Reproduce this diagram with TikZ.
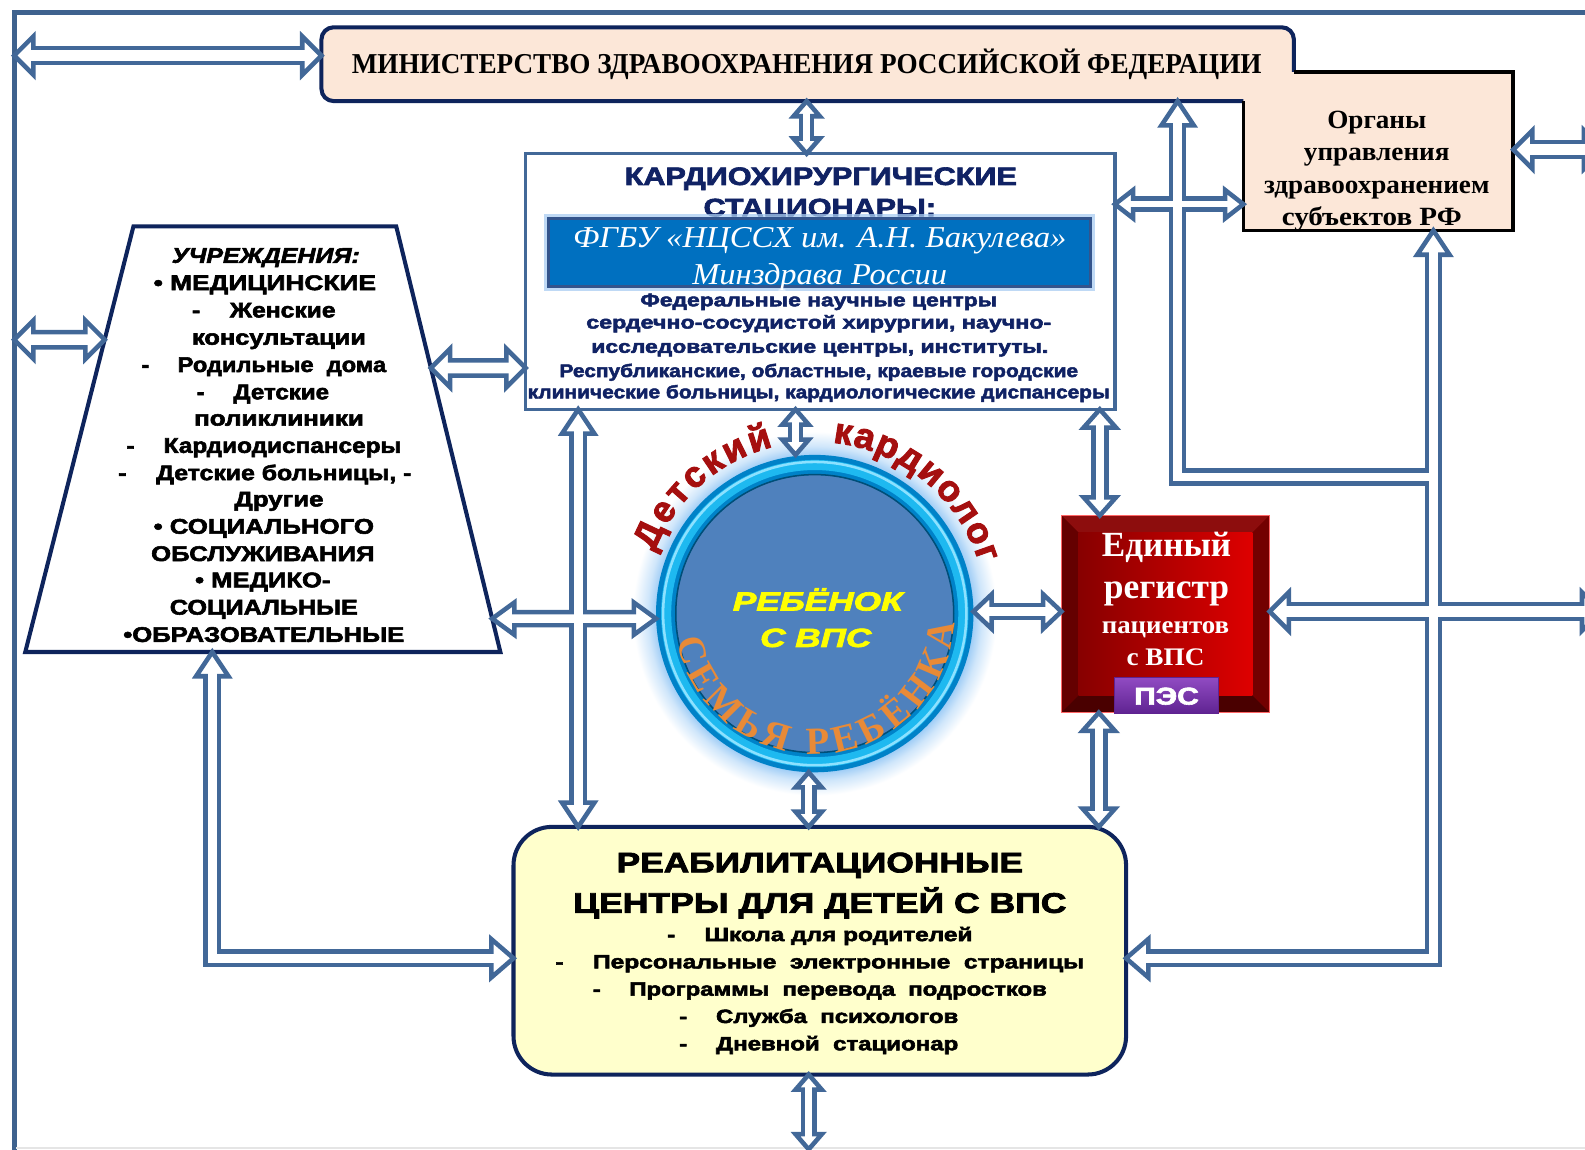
\documentclass[tikz,border=0pt]{standalone}
\usepackage{fontspec}
\setmainfont{Liberation Serif}
\setsansfont{Liberation Sans}
\newfontfamily\hvsans{Liberation Sans}[BoldFeatures={FakeBold=2.5},BoldItalicFeatures={FakeBold=2.5}]
\usepackage{graphicx}
\usetikzlibrary{calc,decorations.text}

\definecolor{ablue}{RGB}{66,104,152}
\definecolor{frameb}{RGB}{62,98,142}
\definecolor{navy}{RGB}{14,36,92}
\definecolor{peach}{RGB}{252,231,216}
\definecolor{cardtxt}{RGB}{16,34,100}
\definecolor{bbox}{RGB}{0,112,192}
\definecolor{bboxd}{RGB}{52,84,140}
\definecolor{bglow}{RGB}{170,205,242}
\definecolor{cinner}{RGB}{79,129,189}
\definecolor{ring1}{RGB}{0,130,200}
\definecolor{ring2}{RGB}{30,185,240}
\definecolor{ring3}{RGB}{140,225,255}
\definecolor{glowc}{RGB}{150,200,245}
\definecolor{dred}{RGB}{165,15,15}
\definecolor{orng}{RGB}{232,138,55}
\definecolor{ylw}{RGB}{255,255,0}
\definecolor{rehab}{RGB}{255,255,204}
\definecolor{purpT}{RGB}{145,75,195}
\definecolor{purpB}{RGB}{95,35,145}
\definecolor{rface1}{RGB}{135,0,0}
\definecolor{rface2}{RGB}{222,0,0}

\pgfdeclareradialshading{cglow}{\pgfpoint{0bp}{0bp}}{color(0bp)=(glowc); color(21.5bp)=(glowc); color(23bp)=(glowc!45!white); color(25bp)=(white); color(50bp)=(white)}

\newcommand\Fmin{\rmfamily\bfseries\fontsize{28.5}{30}\selectfont}
\newcommand\Forg{\rmfamily\bfseries\fontsize{26}{28}\selectfont}
\newcommand\Fct{\hvsans\bfseries\fontsize{25}{27}\selectfont}
\newcommand\Fbb{\rmfamily\itshape\fontsize{30}{32}\selectfont}
\newcommand\Fcb{\hvsans\bfseries\fontsize{18}{20}\selectfont}
\newcommand\Ftz{\hvsans\bfseries\fontsize{21}{23}\selectfont}
\newcommand\Frt{\hvsans\bfseries\fontsize{28}{30}\selectfont}
\newcommand\Fri{\hvsans\bfseries\fontsize{19}{21}\selectfont}
\newcommand\Fch{\hvsans\bfseries\itshape\fontsize{26}{28}\selectfont}
\newcommand\Freg{\rmfamily\bfseries\fontsize{35}{37}\selectfont}
\newcommand\Fregs{\rmfamily\bfseries\fontsize{25}{27}\selectfont}
\newcommand\Fpes{\hvsans\bfseries\fontsize{24}{26}\selectfont}
\newcommand\Fcurve{\hvsans\bfseries\fontsize{36}{36}\selectfont}
\newcommand\Fsem{\rmfamily\bfseries\fontsize{38}{38}\selectfont}

\newcommand\mytl[7]{\node[txt, font=#5, text=#6] (#1) at (#2,#3) {\resizebox{#4pt}{\height}{#7}};}
\newcommand\myhead[4]{\begin{scope}[shift={(#1)},rotate=#2]\filldraw[headst] (0,0) -- (-#3,#4) -- (-#3,-#4) -- cycle;\end{scope}}
\newcommand\mysp[4]{\coordinate (#1) at ($(#2)!#4pt!(#3)$);}

\begin{document}
\begin{tikzpicture}[x=1pt,y=-1pt,
 txt/.style={anchor=base, inner sep=0pt, outer sep=0pt},
 box/.style={inner sep=0pt, outer sep=0pt},
 sBb/.style={draw=ablue, line width=19.5pt, line join=miter},
 sWb/.style={draw=white, line width=10.5pt, line join=miter},
 sBm/.style={draw=ablue, line width=17.5pt, line join=miter},
 sWm/.style={draw=white, line width=8.5pt, line join=miter},
 sBs/.style={draw=ablue, line width=15.5pt, line join=miter},
 sWs/.style={draw=white, line width=6.5pt, line join=miter},
 headst/.style={fill=white, draw=ablue, line width=4.5pt, line join=miter},
 curveR/.style={decorate, decoration={text along path, text align=fit to path, text color=#1}}]

\useasboundingbox (0,0) rectangle (1568,1137);
\fill[white] (0,0) rectangle (1568,1137);
\clip (0,0) rectangle (1568,1137);

% frame
\coordinate (fTL) at (14,12);
\draw[frameb, line width=5pt, line join=miter] (14,1140) -- (fTL) -- (1570,12);
\draw[gray!20, line width=1.5pt] (16,1135.5) -- (1568,1135.5);

% ministry + regional bodies
\node[box, fill=peach, rounded corners=12pt, minimum width=962pt, minimum height=73pt] (mins) at (799,63.5) {};
\node[box, fill=peach, minimum width=267pt, minimum height=157pt] (org) at (1363.5,149.5) {};
\draw[navy, line width=4pt, rounded corners=12pt] (org.west |- mins.south) -- (mins.south west) -- (mins.north west) -- (mins.north east) -- (mins.east |- org.north);
\draw[black, line width=3.5pt, line join=miter] (mins.east |- org.north) -- (org.north east) -- (org.south east) -- (org.south west) -- (org.west |- mins.south);
\mytl{minT}{798}{73}{900}{\Fmin}{black}{МИНИСТЕРСТВО ЗДРАВООХРАНЕНИЯ РОССИЙСКОЙ ФЕДЕРАЦИИ}
\mytl{org1}{1362}{127}{98}{\Forg}{black}{Органы}
\mytl{org2}{1362}{159}{144}{\Forg}{black}{управления}
\mytl{org3}{1362}{191}{223}{\Forg}{black}{здравоохранением}
\mytl{org4}{1357}{223}{178}{\Forg}{black}{субъектов РФ}

% cardio surgical hospitals
\node[box, draw=ablue, line width=3.5pt, fill=white, minimum width=583pt, minimum height=253pt] (card) at (811.5,278.5) {};
\mytl{ct1}{812}{183}{388}{\Fct}{cardtxt}{КАРДИОХИРУРГИЧЕСКИЕ}
\mytl{ct2}{811}{214}{230}{\Fct}{cardtxt}{СТАЦИОНАРЫ:}
\node[box, draw=bglow, line width=9pt, opacity=.75, minimum width=536pt, minimum height=67pt] (fgbuG) at (811,249.5) {};
\node[box, fill=bbox, draw=bboxd, line width=3pt, minimum width=536pt, minimum height=67pt] (fgbu) at (811,249.5) {};
\mytl{bb1}{811}{245}{488}{\Fbb}{white}{ФГБУ «НЦССХ им. А.Н. Бакулева»}
\mytl{bb2}{811}{281}{252}{\Fbb}{white}{Минздрава России}
\mytl{cb1}{810}{303}{353}{\Fcb}{cardtxt}{Федеральные научные центры}
\mytl{cb2}{810}{325}{460}{\Fcb}{cardtxt}{сердечно-сосудистой хирургии, научно-}
\mytl{cb3}{811}{349}{452}{\Fcb}{cardtxt}{исследовательские центры, институты.}
\mytl{cb4}{810}{373}{513}{\Fcb}{cardtxt}{Республиканские, областные, краевые городские}
\mytl{cb5}{810}{394}{576}{\Fcb}{cardtxt}{клинические больницы, кардиологические диспансеры}

% institutions trapezoid
\coordinate (tz1) at (132,224);
\coordinate (tz2) at (392,224);
\coordinate (tz3) at (495,645);
\coordinate (tz4) at (25,645);
\draw[navy, line width=4pt, fill=white, line join=miter] (tz1) -- (tz2) -- (tz3) -- (tz4) -- cycle;
\mytl{t1}{263}{260}{186}{\Ftz\itshape}{black}{УЧРЕЖДЕНИЯ:}
\mytl{t2}{262}{287}{220}{\Ftz}{black}{• МЕДИЦИНСКИЕ}
\mytl{t3}{261}{314}{142}{\Ftz}{black}{-\hspace{1.2em}Женские}
\mytl{t4}{276}{341}{172}{\Ftz}{black}{консультации}
\mytl{t5}{261}{368}{242}{\Ftz}{black}{-\hspace{1.2em}Родильные\ \ дома}
\mytl{t6}{260}{395}{131}{\Ftz}{black}{-\hspace{1.2em}Детские}
\mytl{t7}{276}{421}{168}{\Ftz}{black}{поликлиники}
\mytl{t8}{261}{448}{272}{\Ftz}{black}{-\hspace{1.2em}Кардиодиспансеры}
\mytl{t9}{262}{475}{290}{\Ftz}{black}{-\hspace{1.2em}Детские больницы, -}
\mytl{t10}{276}{501}{88}{\Ftz}{black}{Другие}
\mytl{t11}{261}{528}{218}{\Ftz}{black}{• СОЦИАЛЬНОГО}
\mytl{t12}{260}{555}{221}{\Ftz}{black}{ОБСЛУЖИВАНИЯ}
\mytl{t13}{260}{581}{134}{\Ftz}{black}{• МЕДИКО-}
\mytl{t14}{261}{608}{186}{\Ftz}{black}{СОЦИАЛЬНЫЕ}
\mytl{t15}{261}{635}{278}{\Ftz}{black}{•ОБРАЗОВАТЕЛЬНЫЕ}

% central circle
\node[box, circle, minimum size=314pt] (circ) at (806,607) {};
\shade[shading=cglow] (circ.center) circle[radius=180];
\fill[ring1] (circ.center) circle[radius=157];
\draw[ring2, line width=10pt] (circ.center) circle[radius=147];
\draw[ring3, line width=2.5pt] (circ.center) circle[radius=150];
\fill[cinner] (circ.center) circle[radius=137];
\draw[ring1!60!black, line width=1.5pt] (circ.center) circle[radius=137.5];

% unified register
\node[box, fill=rface1!80!black, minimum width=206pt, minimum height=195pt] (reg) at (1153,607.5) {};
\coordinate (rA) at ($(reg.north west)+(17,17)$);
\coordinate (rB) at ($(reg.north east)+(-17,17)$);
\coordinate (rC) at ($(reg.south east)+(-17,-17)$);
\coordinate (rD) at ($(reg.south west)+(17,-17)$);
\fill[rface1!95!white] (reg.north west) -- (reg.north east) -- (rB) -- (rA) -- cycle;
\fill[rface1!75!black] (reg.north west) -- (rA) -- (rD) -- (reg.south west) -- cycle;
\fill[rface1!85!black] (reg.north east) -- (reg.south east) -- (rC) -- (rB) -- cycle;
\fill[rface1!55!black] (reg.south west) -- (reg.south east) -- (rC) -- (rD) -- cycle;
\shade[left color=rface1, right color=rface2] (rA) rectangle (rC);
\draw[red!60!white, line width=1pt] (reg.north west) rectangle (reg.south east);
\mytl{rg1}{1154}{551}{128}{\Freg}{white}{Единый}
\mytl{rg2}{1154}{592}{124}{\Freg}{white}{регистр}
\mytl{rg3}{1153}{627}{126}{\Fregs}{white}{пациентов}
\mytl{rg4}{1153}{658}{77}{\Fregs}{white}{с ВПС}
\node[box, top color=purpT, bottom color=purpB, draw=purpB, line width=1pt, minimum width=102pt, minimum height=36pt] (pes) at (1154,688) {};
\mytl{pesT}{1154}{697}{64}{\Fpes}{white}{ПЭС}

% rehabilitation centres
\node[box, draw=navy, line width=4pt, fill=rehab, rounded corners=38pt, minimum width=606pt, minimum height=245pt] (reh) at (811,940.5) {};
\mytl{rh1}{811}{863}{402}{\Frt}{black}{РЕАБИЛИТАЦИОННЫЕ}
\mytl{rh2}{811}{903}{488}{\Frt}{black}{ЦЕНТРЫ ДЛЯ ДЕТЕЙ С ВПС}
\mytl{rh3}{811}{931}{302}{\Fri}{black}{-\hspace{1.2em}Школа для родителей}
\mytl{rh4}{811}{958}{523}{\Fri}{black}{-\hspace{1.2em}Персональные\ \ электронные\ \ страницы}
\mytl{rh5}{811}{985}{449}{\Fri}{black}{-\hspace{1.2em}Программы\ \ перевода\ \ подростков}
\mytl{rh6}{810}{1012}{276}{\Fri}{black}{-\hspace{1.2em}Служба\ \ психологов}
\mytl{rh7}{810}{1039}{276}{\Fri}{black}{-\hspace{1.2em}Дневной\ \ стационар}

% ---------------- connectors ----------------
\coordinate (a1s) at (14,55);
\coordinate (a1e) at (mins.west |- 0,55);
\coordinate (a2s) at (14,336);
\coordinate (a2e) at ($(tz1)!0.26603!(tz4)$);
\coordinate (a3s) at ($(tz2)!0.33254!(tz3)$);
\coordinate (a3e) at (card.west |- 0,364);
\coordinate (a4s) at (798,0 |- mins.south);
\coordinate (a4e) at (798,0 |- card.north);
\coordinate (a5s) at (787,0 |- card.south);
\coordinate (a5e) at (787,0 |- circ.north);
\coordinate (a6s) at (800,0 |- circ.south);
\coordinate (a6e) at (800,0 |- reh.north);
\coordinate (a7s) at (800,0 |- reh.south);
\coordinate (a7e) at (800,1137);
\coordinate (a8s) at (572,0 |- card.south);
\coordinate (a8e) at (572,0 |- reh.north);
\coordinate (a8hs) at ($(tz2)!0.92162!(tz3)$);
\coordinate (a8he) at (circ.west |- 0,612);
\coordinate (a9s) at (210,0 |- tz4);
\coordinate (a9c) at (210,948);
\coordinate (a9e) at (reh.west |- 0,948);
\coordinate (b1s) at (1165,0 |- mins.south);
\coordinate (b1c) at (1165,472);
\coordinate (b1e) at (1418,472);
\coordinate (b2s) at (1418,0 |- org.south);
\coordinate (b2c) at (1418,948);
\coordinate (b2e) at (reh.east |- 0,948);
\coordinate (c1s) at (card.east |- 0,202);
\coordinate (c1e) at (org.west |- 0,202);
\coordinate (c2s) at (1088,0 |- card.south);
\coordinate (c2e) at (1088,0 |- reg.north);
\coordinate (c3s) at (1087,0 |- reg.south);
\coordinate (c3e) at (1087,0 |- reh.north);
\coordinate (c4s) at (963,605);
\coordinate (c4e) at (reg.west |- 0,605);
\coordinate (h5s) at (reg.east |- 0,605);
\coordinate (h5e) at (1584,605);
\coordinate (o6s) at (org.east |- 0,148);
\coordinate (o6e) at (1586,148);

\mysp{A1a}{a1s}{a1e}{14.5}\mysp{A1b}{a1e}{a1s}{14.5}
\mysp{A2a}{a2s}{a2e}{14.5}\mysp{A2b}{a2e}{a2s}{14.5}
\mysp{A3a}{a3s}{a3e}{14.5}\mysp{A3b}{a3e}{a3s}{14.5}
\mysp{A4a}{a4s}{a4e}{10.5}\mysp{A4b}{a4e}{a4s}{10.5}
\mysp{A5a}{a5s}{a5e}{10.5}\mysp{A5b}{a5e}{a5s}{10.5}
\mysp{A6a}{a6s}{a6e}{10.5}\mysp{A6b}{a6e}{a6s}{10.5}
\mysp{A7a}{a7s}{a7e}{10.5}\mysp{A7b}{a7e}{a7s}{10.5}
\mysp{A8a}{a8s}{a8e}{19.5}\mysp{A8b}{a8e}{a8s}{19.5}
\mysp{A8ha}{a8hs}{a8he}{17.5}\mysp{A8hb}{a8he}{a8hs}{17.5}
\mysp{A9a}{a9s}{a9c}{19.5}\mysp{A9b}{a9e}{a9c}{17.5}
\mysp{B1a}{b1s}{b1c}{19.5}
\mysp{B2a}{b2s}{b2c}{19.5}\mysp{B2b}{b2e}{b2c}{17.5}
\mysp{C1a}{c1s}{c1e}{13.5}\mysp{C1b}{c1e}{c1s}{13.5}
\mysp{C2a}{c2s}{c2e}{13.5}\mysp{C2b}{c2e}{c2s}{13.5}
\mysp{C3a}{c3s}{c3e}{13.5}\mysp{C3b}{c3e}{c3s}{13.5}
\mysp{C4a}{c4s}{c4e}{13.5}\mysp{C4b}{c4e}{c4s}{13.5}
\mysp{H5a}{h5s}{h5e}{14.5}\mysp{H5b}{h5e}{h5s}{14.5}
\mysp{O6a}{o6s}{o6e}{14.5}\mysp{O6b}{o6e}{o6s}{14.5}

% pass 1: outer (blue) shafts
\draw[sBb] (A1a) -- (A1b);
\draw[sBb] (A2a) -- (A2b);
\draw[sBb] (A3a) -- (A3b);
\draw[sBb] (H5a) -- (H5b);
\draw[sBb] (O6a) -- (O6b);
\draw[sBs] (A4a) -- (A4b);
\draw[sBs] (A5a) -- (A5b);
\draw[sBs] (A6a) -- (A6b);
\draw[sBs] (A7a) -- (A7b);
\draw[sBs] (C1a) -- (C1b);
\draw[sBm] (A8a) -- (A8b);
\draw[sBm] (A8ha) -- (A8hb);
\draw[sBm] (A9a) -- (a9c) -- (A9b);
\draw[sBm] (B1a) -- (b1c) -- (b1e);
\draw[sBm] (B2a) -- (b2c) -- (B2b);
\draw[sBm] (C2a) -- (C2b);
\draw[sBm] (C3a) -- (C3b);
\draw[sBm] (C4a) -- (C4b);

% heads
\myhead{a1s}{180}{19}{19}\myhead{a1e}{0}{19}{19}
\myhead{a2s}{180}{19}{19}\myhead{a2e}{0}{19}{19}
\myhead{a3s}{180}{19}{19}\myhead{a3e}{0}{19}{19}
\myhead{a4s}{90}{15}{13}\myhead{a4e}{-90}{15}{13}
\myhead{a5s}{90}{15}{13}\myhead{a5e}{-90}{15}{13}
\myhead{a6s}{90}{15}{13}\myhead{a6e}{-90}{15}{13}
\myhead{a7s}{90}{15}{13}\myhead{a7e}{-90}{15}{13}
\myhead{a8s}{90}{24}{16}\myhead{a8e}{-90}{24}{16}
\myhead{a8hs}{180}{22}{16}\myhead{a8he}{0}{22}{16}
\myhead{a9s}{90}{24}{16}\myhead{a9e}{0}{22}{19}
\myhead{b1s}{90}{24}{16}
\myhead{b2s}{90}{24}{16}\myhead{b2e}{180}{22}{19}
\myhead{c1s}{180}{18}{14}\myhead{c1e}{0}{18}{14}
\myhead{c2s}{90}{18}{16}\myhead{c2e}{-90}{18}{16}
\myhead{c3s}{90}{18}{16}\myhead{c3e}{-90}{18}{16}
\myhead{c4s}{180}{18}{17}\myhead{c4e}{0}{18}{17}
\myhead{h5s}{180}{19}{19}\myhead{h5e}{0}{19}{19}
\myhead{o6s}{180}{19}{19}\myhead{o6e}{0}{19}{19}

% pass 2: inner (white) shafts
\draw[sWb] (A1a) -- (A1b);
\draw[sWb] (A2a) -- (A2b);
\draw[sWb] (A3a) -- (A3b);
\draw[sWb] (H5a) -- (H5b);
\draw[sWb] (O6a) -- (O6b);
\draw[sWs] (A4a) -- (A4b);
\draw[sWs] (A5a) -- (A5b);
\draw[sWs] (A6a) -- (A6b);
\draw[sWs] (A7a) -- (A7b);
\draw[sWs] (C1a) -- (C1b);
\draw[sWm] (A8a) -- (A8b);
\draw[sWm] (A8ha) -- (A8hb);
\draw[sWm] (A9a) -- (a9c) -- (A9b);
\draw[sWm] (B1a) -- (b1c) -- (b1e);
\draw[sWm] (B2a) -- (b2c) -- (B2b);
\draw[sWm] (C2a) -- (C2b);
\draw[sWm] (C3a) -- (C3b);
\draw[sWm] (C4a) -- (C4b);

% circle texts
\mytl{ch1}{809}{604}{168}{\Fch}{ylw}{РЕБЁНОК}
\mytl{ch2}{807}{640}{110}{\Fch}{ylw}{С ВПС}

\path[curveR=dred, decoration={text={|\Fcurve|Детский}}] ($(circ.center)+(-159:170)$) arc[start angle=-159, end angle=-104, radius=170];
\path[curveR=dred, decoration={text={|\Fcurve|кардиолог}}] ($(circ.center)+(-84:170)$) arc[start angle=-84, end angle=-17, radius=170];
\path[curveR=orng, decoration={text={|\Fsem|СЕМЬЯ РЕБЁНКА}}] ($(circ.center)+(169:139)$) arc[start angle=169, end angle=4, radius=139];

\end{tikzpicture}
\end{document}
